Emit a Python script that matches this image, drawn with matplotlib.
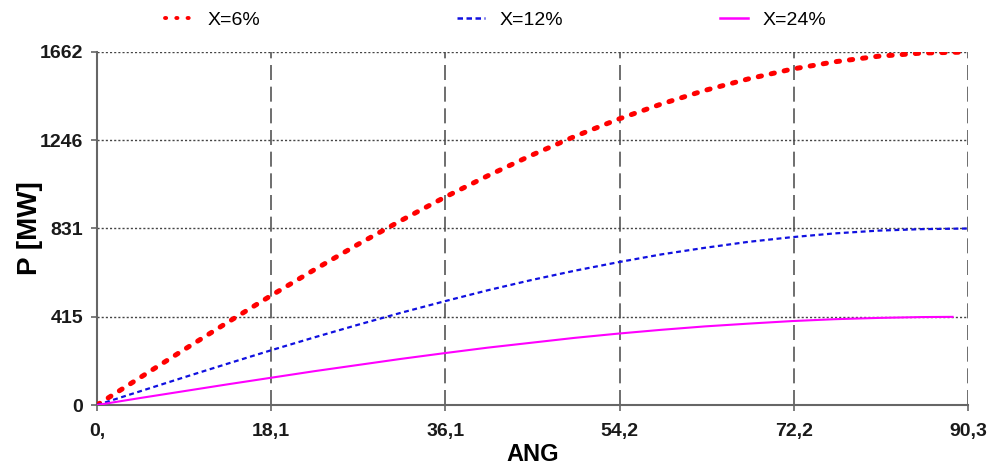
import matplotlib.pyplot as plt
from matplotlib.lines import Line2D

plt.rcParams['font.family'] = ['Liberation Sans', 'DejaVu Sans']

# values
ang = [0, 4.5, 9, 13.5, 18, 22.5, 27, 31.5, 36, 40.5, 45, 49.5, 54, 58.5,
       63, 67.5, 72, 76.5, 81, 85.5, 90.3]
p_6 = [0, 130, 260, 388, 514, 636, 755, 868, 977, 1079, 1175, 1264, 1345,
       1417, 1481, 1535, 1581, 1616, 1642, 1657, 1662]
p_12 = [0, 65, 130, 194, 257, 318, 377, 434, 488, 540, 588, 632, 672, 709,
        740, 768, 790, 808, 821, 828, 831]
ang_24 = [0, 4.5, 9, 13.5, 18, 22.5, 27, 31.5, 36, 40.5, 45, 49.5, 54, 58.5,
          63, 67.5, 72, 76.5, 81, 85.5, 88.7]
p_24 = [0, 33, 65, 97, 128, 159, 188, 217, 244, 270, 293, 316, 336, 354,
        370, 383, 395, 404, 410, 414, 415]

x_ticks = [0, 18.06, 36.12, 54.18, 72.24, 90.3]
x_labels = ['0,', '18,1', '36,1', '54,2', '72,2', '90,3']
y_ticks = [0, 415, 831, 1246, 1662]
labels = ['X=6%', 'X=12%', 'X=24%']

fig = plt.figure(figsize=(9.89, 4.65), dpi=100)
ax = fig.add_axes([97 / 989, 60 / 465, 871 / 989, 353 / 465])

# grid
for xv in x_ticks[1:]:
    ax.axvline(xv, color='#555555', lw=1.2, dashes=(9, 4), zorder=1)
for yv in y_ticks[1:]:
    ax.axhline(yv, color='#444444', lw=1.0, dashes=(1.5, 1.5), zorder=1)

ax.plot(ang, p_6, color='#ff0000', lw=3.6, dashes=(0.65, 2.0),
        dash_capstyle='round', zorder=3)
ax.plot(ang, p_12, color='#1010e0', lw=1.6, dashes=(2.2, 1.6), zorder=3)
ax.plot(ang_24, p_24, color='#ff00ff', lw=1.5, zorder=3)

ax.set_xlim(0, 90.3)
ax.set_ylim(0, 1662)
ax.set_xticks(x_ticks)
ax.set_xticklabels(x_labels)
ax.set_yticks(y_ticks)
ax.tick_params(labelsize=14, length=4, color='#666666', width=1.2)
ax.tick_params(axis='x', pad=9)
ax.tick_params(axis='y', pad=6)
for t in ax.get_xticklabels() + ax.get_yticklabels():
    t.set_fontweight('bold')
    t.set_color('#1a1a1a')

for s in ['top', 'right']:
    ax.spines[s].set_visible(False)
for s in ['left', 'bottom']:
    ax.spines[s].set_color('#666666')
    ax.spines[s].set_linewidth(1.5)

ax.set_ylabel('P [MW]', fontsize=20, fontweight='bold', labelpad=-2)
ax.set_xlabel('ANG', fontsize=17, fontweight='bold', labelpad=2)

# legend entries across the top
handles = [
    Line2D([], [], color='#ff0000', lw=2.8, dashes=(0.3, 2.6),
           dash_capstyle='round'),
    Line2D([], [], color='#1010e0', lw=1.8, dashes=(2.2, 1.4)),
    Line2D([], [], color='#ff00ff', lw=1.8),
]
xs = [165, 457, 720]
for h, lab, xp in zip(handles, labels, xs):
    fig.legend([h], [lab], loc='center left',
               bbox_to_anchor=(xp / 989, 1 - 20 / 465), frameon=False,
               fontsize=14, handlelength=1.45, handletextpad=0.75,
               borderpad=0, borderaxespad=0)

plt.savefig('out.png', dpi=100)
